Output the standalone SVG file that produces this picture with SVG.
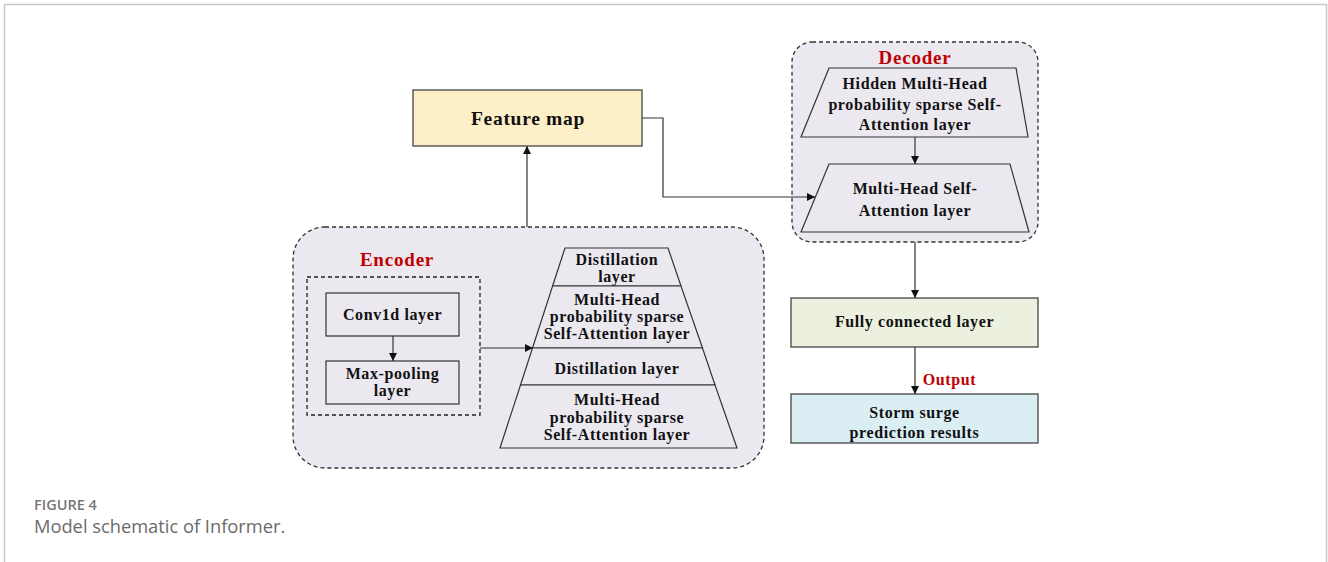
<svg xmlns="http://www.w3.org/2000/svg" width="1328" height="562" viewBox="0 0 1328 562">
<defs>
<marker id="ah" viewBox="0 0 10 10" refX="10" refY="5" markerWidth="8" markerHeight="8" markerUnits="userSpaceOnUse" orient="auto">
<path d="M0,0 L10,5 L0,10 z" fill="#111"/>
</marker>
<style>
.t{font-family:"Liberation Serif","Times New Roman",serif;font-weight:bold;font-size:16px;letter-spacing:0.6px;fill:#111;text-anchor:middle}
.red{fill:#c00000;font-size:19px;letter-spacing:0.8px}
.box{stroke:#444;stroke-width:1.3}
.cont{fill:#ebe8f0;stroke:#333;stroke-width:1.3;stroke-dasharray:4,3}
.shape{fill:#ebe8f0;stroke:#333;stroke-width:1.2}
.con{fill:none;stroke:#333;stroke-width:1.2;marker-end:url(#ah)}
</style>
</defs>
<rect width="1328" height="562" fill="#fff"/>
<path d="M4.5,562 V4.5 H1326.5 V562" fill="none" stroke="#c8c8c8" stroke-width="1.5"/>

<g id="encoder">
<rect class="cont" x="293" y="227" width="471" height="241" rx="32"/>
<text class="t red" x="397" y="266">Encoder</text>
<rect x="307" y="277" width="173" height="138" fill="none" stroke="#222" stroke-width="1.3" stroke-dasharray="4,3"/>
</g>
<g id="conv1d">
<rect class="shape" x="326" y="293" width="133" height="43"/>
<text class="t" x="392.5" y="320">Conv1d layer</text>
</g>
<g id="maxpool">
<rect class="shape" x="326" y="361" width="133" height="43"/>
<text class="t" x="392.5" y="379">Max-pooling</text>
<text class="t" x="392.5" y="396">layer</text>
</g>
<g id="distill1">
<path class="shape" d="M565,248 L668,248 L681,286 L552.6,286 z"/>
<text class="t" x="617" y="265">Distillation</text>
<text class="t" x="617" y="282">layer</text>
</g>
<g id="mhpsa1">
<path class="shape" d="M552.6,286 L681,286 L702.5,348 L532.5,348 z"/>
<text class="t" x="617" y="305">Multi-Head</text>
<text class="t" x="617" y="322">probability sparse</text>
<text class="t" x="617" y="339">Self-Attention layer</text>
</g>
<g id="distill2">
<path class="shape" d="M532.5,348 L702.5,348 L715,385 L520.5,385 z"/>
<text class="t" x="617" y="374">Distillation layer</text>
</g>
<g id="mhpsa2">
<path class="shape" d="M520.5,385 L715,385 L737,448 L500,448 z"/>
<text class="t" x="617" y="405">Multi-Head</text>
<text class="t" x="617" y="423">probability sparse</text>
<text class="t" x="617" y="440">Self-Attention layer</text>
</g>

<g id="featuremap">
<rect class="box" x="413" y="90" width="229" height="56" fill="#fdefc8"/>
<text class="t" x="528" y="125" style="font-size:19.5px;letter-spacing:0.7px">Feature map</text>
</g>

<g id="decoder">
<rect class="cont" x="792" y="42" width="246" height="200" rx="20"/>
<text class="t red" x="915" y="64">Decoder</text>
</g>
<g id="hmhpsa">
<path class="shape" d="M829,68 L1016,68 L1028,137 L801,137 z"/>
<text class="t" x="915" y="89">Hidden Multi-Head</text>
<text class="t" x="915" y="110">probability sparse Self-</text>
<text class="t" x="915" y="130">Attention layer</text>
</g>
<g id="mhsa">
<path class="shape" d="M829,164 L1010,164 L1029,232 L801,232 z"/>
<text class="t" x="915" y="194">Multi-Head Self-</text>
<text class="t" x="915" y="216">Attention layer</text>
</g>
<g id="fc">
<rect class="box" x="791" y="298" width="247" height="49" fill="#ebf1de"/>
<text class="t" x="914.5" y="327">Fully connected layer</text>
</g>
<g id="storm">
<rect class="box" x="791" y="394" width="247" height="49" fill="#dbeef4"/>
<text class="t" x="914.5" y="418">Storm surge</text>
<text class="t" x="914.5" y="438">prediction results</text>
</g>

<g id="connectors">
<path class="con" d="M527,227 V146"/>
<path class="con" d="M642,118 H663 V197 H815"/>
<path class="con" d="M393,336 V361"/>
<path class="con" d="M480,348 H533"/>
<path class="con" d="M915,137 V164"/>
<path class="con" d="M915,242 V298"/>
<path class="con" d="M915,347 V394"/>
<text class="t red" x="949.5" y="385" style="font-size:16px;letter-spacing:0.6px">Output</text>
</g>

<g id="caption" font-family="'Open Sans','Noto Sans',sans-serif">
<text x="34" y="510" font-size="14.5" font-weight="600" fill="#777">FIGURE 4</text>
<text x="34" y="533" font-size="18.3" fill="#6b6b6b">Model schematic of Informer.</text>
</g>
</svg>
